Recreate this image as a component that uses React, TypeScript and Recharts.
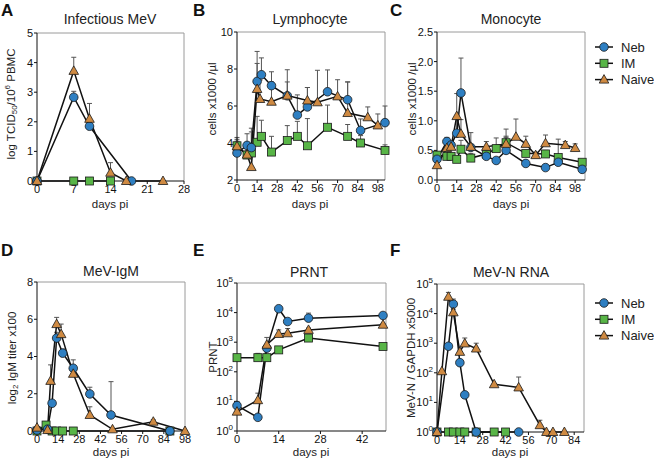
import React from 'react';
import { LineChart, Line, XAxis, YAxis, ErrorBar, ReferenceLine } from 'recharts';

const FONT = '"Liberation Sans", Arial, Helvetica, sans-serif';

// --- A: Infectious MeV (log TCID50 / 10^6 PBMC)
const aNebDays = [0, 7, 10, 18];
const aNebVals = [0, 2.83, 1.85, 0];
const aNebTops = [0, 3.03, 1.85, 0];
const aImDays = [0, 7, 10, 14];
const aImVals = [0, 0, 0, 0];
const aNaiveDays = [0, 7, 10, 14, 17, 24];
const aNaiveVals = [0, 3.72, 2.1, 0.28, 0, 0];
const aNaiveTops = [0, 4.18, 2.62, 0.62, 0, 0];

// --- B: Lymphocyte (cells x1000/ul)
const bNebDays = [0, 7, 10, 14, 17, 24, 35, 42, 49, 63, 77, 86, 103];
const bNebVals = [3.46, 3.87, 3.75, 7.33, 7.69, 7.1, 6.55, 5.51, 5.95, 6.77, 6.34, 4.68, 5.1];
const bNebTops = [4.3, 4.5, 4.8, 8.3, 8.6, 7.85, 7.3, 6.6, 7.0, 7.95, 7.3, 5.3, 6.0];
const bImDays = [0, 7, 10, 14, 17, 24, 35, 42, 49, 63, 77, 86, 103];
const bImVals = [3.85, 3.35, 3.46, 4.04, 4.36, 3.51, 4.13, 4.36, 3.85, 4.85, 4.36, 4.0, 3.6];
const bImTops = [4.1, 3.6, 3.8, 5.44, 5.23, 4.36, 4.94, 5.17, 5.32, 6.05, 5.0, 4.4, 3.9];
const bNaiveDays = [0, 7, 10, 14, 16, 24, 35, 49, 56, 70, 77, 91, 98];
const bNaiveVals = [3.82, 3.37, 2.7, 6.92, 6.38, 6.23, 6.56, 6.3, 6.2, 6.52, 5.62, 5.39, 4.95];
const bNaiveTops = [4.2, 4.0, 4.6, 8.95, 7.4, 7.3, 7.96, 7.0, 7.93, 7.42, 7.3, 5.95, 5.57];

// --- C: Monocyte (cells x1000/ul)
const cNebDays = [0, 7, 10, 14, 17, 24, 35, 42, 49, 63, 77, 86, 103];
const cNebVals = [0.35, 0.65, 0.59, 0.79, 1.47, 0.55, 0.4, 0.33, 0.5, 0.28, 0.21, 0.3, 0.18];
const cNebTops = [0.4, 0.72, 0.65, 1.05, 2.06, 0.6, 0.45, 0.38, 0.74, 0.32, 0.26, 0.35, 0.2];
const cImDays = [0, 7, 10, 14, 17, 24, 35, 42, 49, 63, 77, 86, 103];
const cImVals = [0.42, 0.4, 0.4, 0.35, 0.52, 0.37, 0.44, 0.53, 0.63, 0.45, 0.44, 0.38, 0.3];
const cImTops = [0.46, 0.44, 0.45, 0.4, 0.67, 0.45, 0.5, 0.71, 0.86, 0.5, 0.5, 0.69, 0.33];
const cNaiveDays = [0, 7, 10, 14, 17, 24, 35, 49, 56, 63, 70, 77, 91, 98];
const cNaiveVals = [0.25, 0.54, 0.56, 1.08, 0.78, 0.56, 0.56, 0.61, 0.73, 0.61, 0.42, 0.62, 0.59, 0.54];
const cNaiveTops = [0.3, 0.62, 0.65, 1.46, 1.02, 0.8, 0.65, 0.72, 1.03, 0.74, 0.47, 0.76, 0.65, 0.61];

// --- D: MeV-IgM (log2 titer x100)
const dNebDays = [0, 7, 10, 13, 17, 24, 35, 49, 88];
const dNebVals = [0.05, 0.1, 1.49, 4.99, 4.18, 3.37, 1.99, 0.86, 0];
const dNebTops = [0.05, 0.1, 1.6, 5.3, 4.4, 3.82, 2.35, 2.65, 0];
const dImDays = [0, 6, 10, 13, 17, 24, 88];
const dImVals = [0, 0.32, 0, 0, 0, 0, 0];
const dImTops = [0, 0.5, 0, 0, 0, 0, 0];
const dNaiveDays = [0, 7, 9, 13, 16, 24, 35, 50, 77, 98];
const dNaiveVals = [0.18, 0.05, 2.69, 5.74, 5.2, 3.07, 0.86, 0.09, 0.5, 0];
const dNaiveTops = [0.18, 0.05, 3.55, 6.1, 5.74, 3.3, 1.3, 0.09, 0.6, 0];

// --- E: PRNT
const eNebDays = [0, 7, 10, 14, 17, 24, 49];
const eNebVals = [7.2, 2.9, 630, 13500, 5000, 6500, 8000];
const eNebTops = [10, 2.9, 630, 16000, 6000, 9600, 9000];
const eImDays = [0, 7, 10, 14, 24, 49];
const eImVals = [300, 300, 300, 550, 1380, 720];
const eImTops = [300, 420, 300, 550, 1500, 720];
const eNaiveDays = [0, 7, 10, 14, 17, 24, 49];
const eNaiveVals = [4.5, 11, 820, 1900, 2000, 2600, 3900];
const eNaiveTops = [4.5, 19, 1450, 2600, 2900, 3000, 4300];

// --- F: MeV-N RNA (MeV-N / GAPDH x5000)
const fNebDays = [0, 7, 10, 14, 17, 24, 50];
const fNebVals = [1, 790, 21000, 220, 18, 1, 1];
const fNebTops = [1, 790, 31000, 220, 18, 1, 1];
const fImDays = [0, 7, 10, 14, 17, 24, 35, 42];
const fImVals = [1, 1, 1, 1, 1, 1, 1, 1];
const fNaiveDays = [0, 3, 7, 10, 14, 17, 24, 35, 50, 63, 67, 71, 78];
const fNaiveVals = [1, 113, 37000, 11000, 510, 980, 660, 41, 32, 1.7, 1, 1, 1];
const fNaiveTops = [1, 113, 52000, 14000, 510, 1500, 1000, 41, 72, 2.5, 1, 1, 1];

const weekTicks = [0, 14, 28, 42, 56, 70, 84, 98];
const logTicks = [1, 10, 100, 1000, 10000, 100000];

const NEB = { name: 'Neb', kind: 'circle', color: '#2e7fc2' };
const IM = { name: 'IM', kind: 'square', color: '#58b547' };
const NAIVE = { name: 'Naive', kind: 'triangle', color: '#cf8a42' };
const GROUPS = [NEB, IM, NAIVE];

type Pt = { x: number; y: number; err: [number, number] };

const pts = (days: number[], vals: number[], tops?: number[]): Pt[] =>
  days.map((d, i) => ({ x: d, y: vals[i], err: [0, tops ? Math.max(0, tops[i] - vals[i]) : 0] }));

const Marker = ({ kind, color, cx, cy }: any) => {
  const st = { fill: color, stroke: '#1b1b1b', strokeWidth: 0.8 };
  if (kind === 'square') return <rect x={cx - 4} y={cy - 4} width={8} height={8} {...st} />;
  if (kind === 'triangle')
    return <polygon points={`${cx},${cy - 5} ${cx - 4.8},${cy + 3.5} ${cx + 4.8},${cy + 3.5}`} {...st} />;
  return <circle cx={cx} cy={cy} r={4.3} {...st} />;
};

const dotFor = (g: any) => (props: any) => {
  const { cx, cy, index } = props;
  if (cx == null || cy == null) return <g key={`${g.name}-${index}`} />;
  return (
    <g key={`${g.name}-${index}`}>
      <Marker kind={g.kind} color={g.color} cx={cx} cy={cy} />
    </g>
  );
};

const PowTick = (props: any) => {
  const { x, y, payload } = props;
  const e = Math.round(Math.log10(payload.value));
  return (
    <text x={x} y={y} dy="0.355em" textAnchor="end" fontSize={11} fontFamily={FONT} fill="#111">
      10<tspan dy={-5} fontSize={8}>{e}</tspan>
    </text>
  );
};

const Y_W = 34;
const X_H = 24;
const M_TOP = 14;
const M_RIGHT = 8;
const tickStyle = { fontSize: 11, fill: '#111', fontFamily: FONT };

interface PanelProps {
  left: number;
  top: number;
  width: number;
  height: number;
  xDomain: [number, number];
  xTicks: number[];
  yDomain: [number, number];
  yTicks: number[];
  log?: boolean;
  yFmt?: (v: number) => string;
  series: { group: any; data: Pt[] }[];
}

const Panel: React.FC<PanelProps> = (p) => (
  <div style={{ position: 'absolute', left: p.left - Y_W, top: p.top - M_TOP }}>
    <LineChart
      width={Y_W + p.width + M_RIGHT}
      height={M_TOP + p.height + X_H}
      margin={{ top: M_TOP, right: M_RIGHT, bottom: 0, left: 0 }}
    >
      <XAxis
        type="number"
        dataKey="x"
        domain={p.xDomain}
        ticks={p.xTicks}
        interval={0}
        height={X_H}
        tickSize={3}
        tickMargin={1}
        stroke="#111"
        tick={tickStyle}
      />
      <YAxis
        type="number"
        domain={p.yDomain}
        ticks={p.yTicks}
        interval={0}
        scale={p.log ? 'log' : 'auto'}
        width={Y_W}
        tickSize={3}
        tickMargin={1}
        stroke="#111"
        tick={p.log ? <PowTick /> : tickStyle}
        tickFormatter={p.yFmt}
      />
      <ReferenceLine y={p.yDomain[1]} stroke="#9a9a9a" />
      <ReferenceLine x={p.xDomain[1]} stroke="#9a9a9a" />
      {p.series.map((s) => (
        <Line
          key={`${s.group.name}-err`}
          data={s.data}
          dataKey="y"
          stroke="none"
          dot={false}
          activeDot={false}
          legendType="none"
          isAnimationActive={false}
        >
          <ErrorBar dataKey="err" direction="y" width={2.5} stroke="#555" strokeWidth={1} />
        </Line>
      ))}
      {p.series.map((s) => (
        <Line
          key={s.group.name}
          data={s.data}
          dataKey="y"
          stroke="#111"
          strokeWidth={1.5}
          dot={dotFor(s.group)}
          activeDot={false}
          isAnimationActive={false}
        />
      ))}
    </LineChart>
  </div>
);

const RotLabel = ({ x, y, children }: any) => (
  <text
    transform={`translate(${x},${y}) rotate(-90)`}
    textAnchor="middle"
    dominantBaseline="central"
    fontSize={11.5}
    fontFamily={FONT}
    fill="#222"
  >
    {children}
  </text>
);

const Legend = ({ x, y }: { x: number; y: number }) => (
  <g>
    {GROUPS.map((g, i) => {
      const cy = y + i * 16.3;
      return (
        <g key={g.name}>
          <line x1={x} x2={x + 18} y1={cy} y2={cy} stroke="#111" strokeWidth={1.5} />
          <Marker kind={g.kind} color={g.color} cx={x + 9} cy={cy} />
          <text x={x + 26} y={cy + 4.5} fontSize={13} fontFamily={FONT} fill="#222">
            {g.name}
          </text>
        </g>
      );
    })}
  </g>
);

export default function App() {
  const titles = [
    { x: 110, y: 24, t: 'Infectious MeV' },
    { x: 310, y: 24, t: 'Lymphocyte' },
    { x: 511, y: 24, t: 'Monocyte' },
    { x: 111, y: 276, t: 'MeV-IgM' },
    { x: 309, y: 277, t: 'PRNT' },
    { x: 511, y: 277, t: 'MeV-N RNA' },
  ];
  const letters = [
    { x: 1, y: 16, t: 'A' },
    { x: 193, y: 16, t: 'B' },
    { x: 390, y: 16, t: 'C' },
    { x: 1, y: 256, t: 'D' },
    { x: 193, y: 256, t: 'E' },
    { x: 390, y: 256, t: 'F' },
  ];
  const xLabels = [
    { x: 110, y: 208 },
    { x: 310, y: 208 },
    { x: 511, y: 208 },
    { x: 111, y: 456 },
    { x: 311, y: 456 },
    { x: 510, y: 456 },
  ];

  return (
    <div style={{ position: 'absolute', left: 0, top: 0, width: 654, height: 469, background: '#fff' }}>
      <Panel
        left={37}
        top={33}
        width={147}
        height={148}
        xDomain={[0, 28]}
        xTicks={[0, 7, 14, 21, 28]}
        yDomain={[0, 5]}
        yTicks={[0, 1, 2, 3, 4, 5]}
        series={[
          { group: IM, data: pts(aImDays, aImVals) },
          { group: NEB, data: pts(aNebDays, aNebVals, aNebTops) },
          { group: NAIVE, data: pts(aNaiveDays, aNaiveVals, aNaiveTops) },
        ]}
      />
      <Panel
        left={237}
        top={32}
        width={148}
        height={148}
        xDomain={[0, 103]}
        xTicks={weekTicks}
        yDomain={[2, 10]}
        yTicks={[2, 4, 6, 8, 10]}
        series={[
          { group: IM, data: pts(bImDays, bImVals, bImTops) },
          { group: NEB, data: pts(bNebDays, bNebVals, bNebTops) },
          { group: NAIVE, data: pts(bNaiveDays, bNaiveVals, bNaiveTops) },
        ]}
      />
      <Panel
        left={437}
        top={32}
        width={148}
        height={148}
        xDomain={[0, 105]}
        xTicks={weekTicks}
        yDomain={[0, 2.5]}
        yTicks={[0, 0.5, 1, 1.5, 2, 2.5]}
        yFmt={(v) => v.toFixed(1)}
        series={[
          { group: IM, data: pts(cImDays, cImVals, cImTops) },
          { group: NEB, data: pts(cNebDays, cNebVals, cNebTops) },
          { group: NAIVE, data: pts(cNaiveDays, cNaiveVals, cNaiveTops) },
        ]}
      />
      <Panel
        left={37}
        top={282}
        width={148}
        height={149}
        xDomain={[0, 98]}
        xTicks={weekTicks}
        yDomain={[0, 8]}
        yTicks={[0, 2, 4, 6, 8]}
        series={[
          { group: IM, data: pts(dImDays, dImVals, dImTops) },
          { group: NEB, data: pts(dNebDays, dNebVals, dNebTops) },
          { group: NAIVE, data: pts(dNaiveDays, dNaiveVals, dNaiveTops) },
        ]}
      />
      <Panel
        left={237}
        top={283}
        width={149}
        height={148}
        xDomain={[0, 50]}
        xTicks={[0, 14, 28, 42]}
        yDomain={[1, 100000]}
        yTicks={logTicks}
        log
        series={[
          { group: IM, data: pts(eImDays, eImVals, eImTops) },
          { group: NEB, data: pts(eNebDays, eNebVals, eNebTops) },
          { group: NAIVE, data: pts(eNaiveDays, eNaiveVals, eNaiveTops) },
        ]}
      />
      <Panel
        left={437}
        top={284}
        width={147}
        height={148}
        xDomain={[0, 90]}
        xTicks={[0, 14, 28, 42, 56, 70, 84]}
        yDomain={[1, 100000]}
        yTicks={logTicks}
        log
        series={[
          { group: IM, data: pts(fImDays, fImVals) },
          { group: NEB, data: pts(fNebDays, fNebVals, fNebTops) },
          { group: NAIVE, data: pts(fNaiveDays, fNaiveVals, fNaiveTops) },
        ]}
      />

      <svg
        width={654}
        height={469}
        style={{ position: 'absolute', left: 0, top: 0, pointerEvents: 'none' }}
      >
        {letters.map((l) => (
          <text key={l.t} x={l.x} y={l.y} fontSize={17} fontWeight="bold" fontFamily={FONT} fill="#111">
            {l.t}
          </text>
        ))}
        {titles.map((t) => (
          <text key={t.t} x={t.x} y={t.y} textAnchor="middle" fontSize={14} fontFamily={FONT} fill="#222">
            {t.t}
          </text>
        ))}
        {xLabels.map((l, i) => (
          <text key={i} x={l.x} y={l.y} textAnchor="middle" fontSize={11.5} fontFamily={FONT} fill="#222">
            days pi
          </text>
        ))}
        <RotLabel x={11} y={104}>
          log TCID<tspan dy={3} fontSize={8}>50</tspan>
          <tspan dy={-3}>/10</tspan>
          <tspan dy={-4} fontSize={8}>6</tspan>
          <tspan dy={4}> PBMC</tspan>
        </RotLabel>
        <RotLabel x={212} y={99}>cells x1000 /µl</RotLabel>
        <RotLabel x={412} y={99}>cells x1000 /µl</RotLabel>
        <RotLabel x={12} y={358}>
          log<tspan dy={3} fontSize={8}>2</tspan>
          <tspan dy={-3}> IgM titer x100</tspan>
        </RotLabel>
        <RotLabel x={213} y={357}>PRNT</RotLabel>
        <RotLabel x={411} y={358}>MeV-N / GAPDH x5000</RotLabel>
        <Legend x={595} y={47} />
        <Legend x={595} y={303} />
      </svg>
    </div>
  );
}
